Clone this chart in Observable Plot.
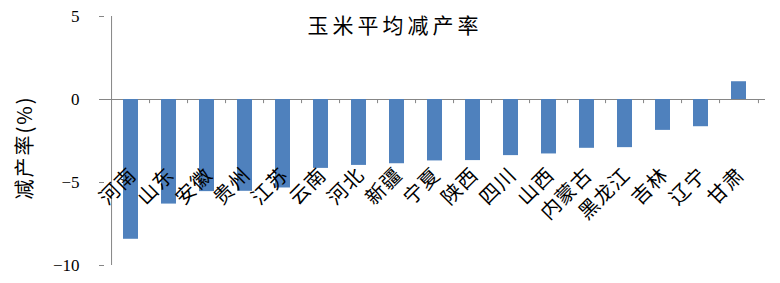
<!DOCTYPE html>
<html>
<head>
<meta charset="utf-8">
<script src="https://cdn.jsdelivr.net/npm/d3@7"></script>
<script src="https://cdn.jsdelivr.net/npm/@observablehq/plot@0.6"></script>
<style>
  html, body { margin: 0; padding: 0; background: #fff; }
  #chart svg { display: block; }
  .ttl text { letter-spacing: 4px; }
  .cat text { letter-spacing: 1px; }
  .ylab text { letter-spacing: 2px; }
</style>
</head>
<body>
<div id="chart"></div>
<script>
const title = "玉米平均减产率";
const yLabel = "减产率(%)";
const categories = ["河南","山东","安徽","贵州","江苏","云南","河北","新疆","宁夏","陕西","四川","山西","内蒙古","黑龙江","吉林","辽宁","甘肃"];
const values = [-8.42,-6.3,-5.55,-5.53,-5.33,-4.15,-3.97,-3.87,-3.7,-3.68,-3.38,-3.28,-2.94,-2.9,-1.86,-1.64,1.07];
const yTicks = [5, 0, -5, -10];

const data = categories.map((c, i) => ({cat: c, value: values[i]}));

const W = 780, H = 283;
const mL = 104, mR = 15, mT = 16, mB = 18;
const step = (W - mL - mR) / categories.length;
const axisColor = "#868686";
const cjk = "'Noto Sans CJK SC', sans-serif";
const num = "'Liberation Serif', serif";

const chart = Plot.plot({
  width: W,
  height: H,
  marginLeft: mL,
  marginRight: mR,
  marginTop: mT,
  marginBottom: mB,
  style: {fontFamily: num, fontSize: "17px", color: "#000", background: "#fff"},
  x: {domain: categories, axis: null, paddingInner: 0.615, paddingOuter: 0.3075},
  y: {domain: [-10, 5], axis: null},
  marks: [
    Plot.ruleX([categories[0]], {x: d => d, y1: -10, y2: 5, dx: -step / 2, stroke: axisColor, strokeWidth: 1}),
    Plot.ruleY([0], {stroke: axisColor, strokeWidth: 1}),
    Plot.ruleX(categories.slice(1), {x: d => d, y1: 0, y2: -0.25, dx: -step / 2, stroke: axisColor}),
    Plot.ruleX([categories[categories.length - 1]], {x: d => d, y1: 0, y2: -0.25, dx: step / 2, stroke: axisColor}),
    Plot.barY(data, {x: "cat", y: "value", fill: "#4F81BD"}),
    Plot.axisY({
      ticks: yTicks,
      tickSize: 5,
      tickPadding: 20,
      stroke: axisColor,
      fill: "#000",
      fontSize: 17,
      fontFamily: num,
      tickFormat: d => d < 0 ? "\u2212" + Math.abs(d) : String(d),
      label: null
    }),
    Plot.text(data, {
      x: "cat",
      y: () => -4.35,
      text: "cat",
      rotate: -45,
      textAnchor: "end",
      dx: 2,
      fontSize: 20,
      fontFamily: cjk,
      fill: "#000",
      className: "cat"
    }),
    Plot.text([title], {
      frameAnchor: "top",
      dx: -40,
      dy: 2,
      lineAnchor: "top",
      fontSize: 21,
      fontFamily: cjk,
      fill: "#000",
      text: d => d,
      className: "ttl"
    }),
    Plot.text([yLabel], {
      frameAnchor: "left",
      textAnchor: "middle",
      dx: -79,
      dy: 6.5,
      rotate: -90,
      fontSize: 20,
      fontFamily: cjk,
      fill: "#000",
      text: d => d,
      className: "ylab"
    })
  ]
});
document.getElementById("chart").appendChild(chart);
</script>
</body>
</html>
